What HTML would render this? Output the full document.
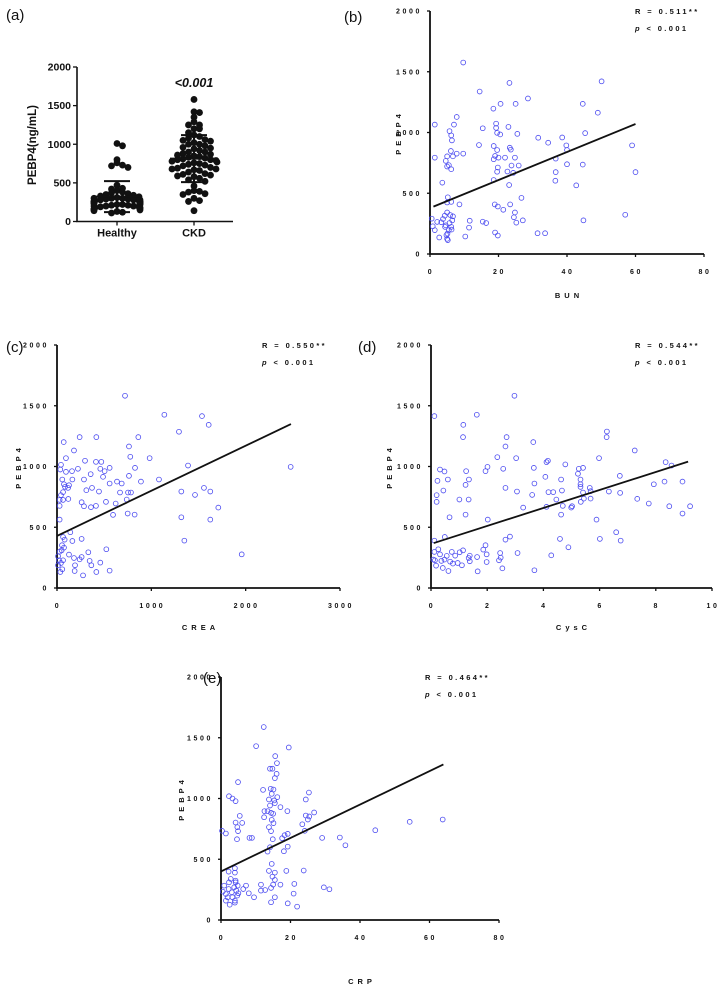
<!DOCTYPE html>
<html><head><meta charset="utf-8">
<style>
html,body{margin:0;padding:0;background:#fff;}
svg{display:block;font-family:"Liberation Sans",Arial,sans-serif;}
.tk{font-size:7px;font-weight:bold;letter-spacing:2.6px;fill:#111;}
.ttl{font-size:7.5px;font-weight:bold;letter-spacing:4px;fill:#111;}
.pl{font-size:15px;fill:#111;}
.st{font-size:7.5px;font-weight:bold;letter-spacing:2.4px;fill:#111;}
</style></head>
<body>
<svg id="fig" width="720" height="996" viewBox="0 0 720 996"></svg>
<script>
// ---------- Panel (a) data ----------
const groupLabels = ["Healthy","CKD"];
const healthyVals = [1010,980,800,760,730,720,700,470,430,420,400,380,370,360,350,340,330,320,310,300,300,290,290,280,280,270,270,260,260,250,250,250,240,240,230,230,220,220,210,210,200,200,190,190,180,170,160,150,140,130,120,110,300,280,260,240,220,200,180,160];
const ckdVals = [1580,1420,1410,1350,1290,1250,1250,1200,1200,1150,1120,1100,1080,1060,1050,1040,1020,1000,1000,980,960,950,940,920,900,900,880,870,860,850,840,830,820,810,800,800,790,780,770,760,750,740,730,720,700,690,680,680,670,660,640,620,610,600,590,580,560,540,520,460,400,390,380,360,350,300,270,260,140];
const aTicks = [0,500,1000,1500,2000];

// ---------- Panel (b) BUN ----------
const bunX = [9.7,1.4,7.8,7,5.7,6.2,6.4,1.4,5,4.6,5,5.5,6.2,6.7,7.8,9.7,6.1,3.6,8.6,5,6.2,5.2,14.5,14.3,15.4,18.5,19.3,19.3,19.6,20.5,20.6,23.2,25,28.6,25.5,22.9,23.3,23.6,18.6,19,18.6,20,19.6,19.8,19.6,21.9,24.8,23.8,25.9,22.6,24.3,23.1,18.6,18.9,19.8,21.4,23.4,26.7,24.8,24.5,27.1,25.2,16.4,15.4,11.6,11.4,10.3,19,19.8,31.4,33.6,31.6,34.5,38.6,39.8,40,40,36.7,36.7,36.6,44.6,49,50.1,45.3,44.6,42.7,44.8,57,59,60,0.5,0.8,1.4,2.1,2.7,3.3,3.8,4.3,4.6,5,5.1,5.2,5.5,5.7,5.9,6.2,6.5,4.8,5,6.3,6.7,4.4];
const bunY = [1576,1065,1128,1065,1011,976,935,793,804,766,720,731,698,804,826,826,848,587,408,424,429,467,1337,897,1035,1196,1073,1038,997,984,1236,1408,1236,1280,989,1046,875,859,889,807,780,793,856,712,677,793,793,728,728,679,668,568,609,408,391,364,408,462,342,302,277,258,255,266,274,217,144,177,152,171,171,957,916,959,894,856,739,785,674,603,1236,1163,1421,995,736,565,277,323,894,674,291,228,196,264,136,261,288,315,236,342,168,114,196,255,321,223,277,155,125,201,310,223];
const bunTicks = [0,20,40,60,80];
const bunFit = [1,390,60,1070];

// ---------- Panel (c) CREA ----------
const creaX = [721,1138,1537,1608,1293,240,417,862,71,180,763,777,95,297,413,470,982,1389,42,35,95,159,222,357,459,488,558,505,827,286,371,163,56,74,85,117,127,636,686,558,890,1081,763,311,445,668,753,784,1318,1463,1558,1625,1710,1318,1625,28,28,42,64,120,64,261,286,360,413,519,622,739,594,749,823,28,2477,1350,1958,141,163,261,64,81,53,74,28,11,11,35,56,64,127,180,240,261,332,346,364,459,417,523,558,276,187,191,21,42,49];
const creaY = [1582,1426,1415,1343,1286,1242,1242,1242,1201,1132,1165,1080,1069,1047,1038,1038,1069,1008,1014,975,956,962,981,937,981,915,989,962,989,893,824,893,893,854,832,824,846,876,860,860,876,893,923,805,794,786,786,786,794,766,824,794,662,582,563,725,676,764,789,733,725,706,673,665,676,709,695,728,602,613,604,563,997,390,277,459,387,404,420,398,352,332,299,261,187,132,154,228,275,247,236,255,294,223,187,209,132,319,143,104,140,187,228,206,310];
const creaTicks = [0,1000,2000,3000];
const creaFit = [0,429,2480,1349];

// ---------- Panel (d) CysC ----------
const cysX = [2.97,0.12,1.63,1.15,1.14,2.69,2.65,3.64,2.36,3.03,6.26,6.25,7.25,5.98,4.16,4.11,0.32,0.48,1.25,1.94,2.01,2.57,3.66,4.78,5.23,5.26,5.41,8.35,8.56,0.23,0.60,1.35,1.23,2.65,3.68,4.07,4.63,5.32,5.32,5.32,5.65,6.72,7.93,8.31,8.95,0.44,0.20,0.20,1.01,1.34,3.06,3.60,4.18,4.35,4.66,5.41,5.68,5.68,6.33,6.73,4.46,4.69,4.11,4.99,5.02,5.33,5.44,7.34,7.75,8.48,9.22,8.95,4.63,3.28,1.23,0.66,2.02,5.89,6.59,6.01,6.75,4.59,4.89,4.28,2.81,2.65,3.08,3.68,0.49,0.12,0.12,0.14,0.18,0.26,0.32,0.37,0.42,0.48,0.56,0.62,0.68,0.74,0.78,0.86,0.95,1.02,1.10,1.14,1.34,1.38,1.64,1.66,1.94,1.98,1.98,1.86,2.46,2.48,2.42,2.54,1.38,0.08];
const cysY = [1582,1415,1426,1343,1242,1242,1165,1201,1077,1069,1288,1242,1132,1069,1047,1036,975,959,962,962,997,981,989,1017,940,981,989,1036,1008,882,893,893,849,824,860,915,893,893,854,832,824,923,854,876,876,802,764,709,728,728,794,766,789,789,802,786,797,736,794,783,728,676,668,662,673,709,736,734,695,673,673,613,604,662,604,582,563,563,459,404,390,404,335,269,423,398,288,146,420,390,297,228,184,319,277,223,165,234,264,140,217,297,201,266,206,294,187,310,247,220,255,137,352,277,214,316,288,250,228,162,266,234];
const cysTicks = [0,2,4,6,8,10];
const cysFit = [0.1,370,9.15,1040];

// ---------- Panel (e) CRP ----------
const crpX = [12.3,10.1,19.5,15.6,16.1,14.1,14.8,16,15.5,4.9,12.1,14.3,15.1,14.6,16.2,25.3,2.3,3.3,4.2,13.8,15.3,15.5,14.1,17.1,19.1,24.4,12.5,13.4,14.4,15,12.4,14.6,26.8,24.4,25.4,25,5.4,15.1,6.1,4.2,4.7,13.8,14.4,23.4,24.1,4.9,0.3,1.4,8.2,8.9,4.6,14.9,17.6,18.3,19.2,29.1,34.2,35.8,44.4,54.3,63.8,19.2,14.1,13.4,18.1,14.6,4,4,2.2,13.8,15.5,18.8,23.8,14.8,15.5,15,17.1,11.5,12.7,14.4,15.5,14.4,19.2,21.9,21.1,20.9,29.6,31.2,8,9.5,6.4,7.2,11.5,0.5,0.9,1.4,2.2,2.3,2.8,3.1,3.3,2.5,3.8,4.2,4.4,4.7,4,4,4.8,5,1.4,1.9,4.2];
const crpY = [1588,1431,1420,1349,1291,1245,1245,1203,1168,1135,1071,1080,1074,1038,1011,1049,1019,1000,978,992,984,962,942,929,896,992,896,896,882,874,846,824,885,860,852,827,857,797,799,802,764,764,731,788,734,731,734,712,676,676,665,665,673,698,709,676,679,615,739,808,827,604,599,563,566,462,426,390,398,404,390,404,407,357,330,291,291,291,247,264,187,146,137,110,297,217,269,253,220,187,255,283,242,234,283,214,255,310,338,228,187,126,269,310,242,201,159,143,283,220,159,187,324];
const crpTicks = [0,20,40,60,80];
const crpFit = [0,400,64,1280];

const pebTicks = [0,500,1000,1500,2000];

const NS = "http://www.w3.org/2000/svg";
const svg = document.getElementById("fig");
function mk(tag, attrs, parent, text){
  const e = document.createElementNS(NS, tag);
  for (const k in attrs) e.setAttribute(k, attrs[k]);
  if (text !== undefined) e.textContent = text;
  (parent || svg).appendChild(e);
  return e;
}

[["(a)",6,20],["(b)",344,22],["(c)",6,352],["(d)",358,352],["(e)",203,683]].forEach(p=>{
  const t = mk("text",{x:p[1],y:p[2],class:"pl"},svg,p[0]);
  
  
});

// ---------- Panel (a) ----------
(function(){
  const g = mk("g",{});
  
  
  const x0=77, x1=233, yb=221.5, yt=67;
  const sy = v => yb - (v/2000)*(yb-yt);
  const ax = mk("path",{d:`M${x0} ${yt} V${yb} H${x1}`,stroke:"#111","stroke-width":1.6,fill:"none"},g);
  
  
  aTicks.forEach(t=>{
    mk("line",{x1:x0-4,x2:x0,y1:sy(t),y2:sy(t),stroke:"#111","stroke-width":1.3},g);
    const l = mk("text",{x:x0-6,y:sy(t)+3.5,"text-anchor":"end","font-size":"10.5","font-weight":"bold",fill:"#111"},g,String(t));
    
    
  });
  const yl = mk("text",{x:0,y:0,transform:`translate(36,145) rotate(-90)`,"text-anchor":"middle","font-size":"11.5","font-weight":"bold",fill:"#111"},g,"PEBP4(ng/mL)");
  
  
  const centers=[117,194];
  [healthyVals, ckdVals].forEach((vals,gi)=>{
    const cx = centers[gi];
    mk("line",{x1:cx,x2:cx,y1:yb,y2:yb+4,stroke:"#111","stroke-width":1.3},g);
    const gl = mk("text",{x:cx,y:yb+15,"text-anchor":"middle","font-size":"11","font-weight":"bold",fill:"#111"},g,groupLabels[gi]);
    
    
    const bins = {};
    vals.forEach(v=>{
      const b = Math.round(v/90);
      bins[b] = (bins[b]||0);
      const k = bins[b]++;
      const off = (k===0?0:(k%2?1:-1)*Math.ceil(k/2)*5.5);
      const d = mk("circle",{cx:cx+Math.max(-23,Math.min(23,off)),cy:sy(v),r:3.4,fill:"#111"},g);
      
      
    });
    const mean = vals.reduce((a,b)=>a+b,0)/vals.length;
    const sd = Math.sqrt(vals.reduce((a,b)=>a+(b-mean)*(b-mean),0)/(vals.length-1));
    const eb = mk("path",{d:`M${cx-24} ${sy(mean)} H${cx+24} M${cx} ${sy(mean-sd)} V${sy(mean+sd)} M${cx-13} ${sy(mean+sd)} H${cx+13} M${cx-13} ${sy(mean-sd)} H${cx+13}`,stroke:"#111","stroke-width":2,fill:"none"},g);
    
    
  });
  const pv = mk("text",{x:194,y:87,"text-anchor":"middle","font-size":"12.5","font-weight":"bold","font-style":"italic",fill:"#111"},g,"<0.001");
  
  
})();

function scatter(cfg){
  const g = mk("g",{});
  
  
  const {x0,x1,yb,yt,xmax}=cfg;
  const sx = v => x0 + v/xmax*(x1-x0);
  const sy = v => yb - v/2000*(yb-yt);
  const ax = mk("path",{d:`M${x0} ${yt} V${yb} H${x1}`,stroke:"#111","stroke-width":1.8,fill:"none"},g);
  
  
  pebTicks.forEach(t=>{
    mk("line",{x1:x0-3,x2:x0,y1:sy(t),y2:sy(t),stroke:"#111","stroke-width":1.3},g);
    const l = mk("text",{x:x0-8,y:sy(t)+2.5,"text-anchor":"end",class:"tk"},g,String(t));
    
    
  });
  cfg.xt.forEach(t=>{
    mk("line",{x1:sx(t),x2:sx(t),y1:yb,y2:yb+3,stroke:"#111","stroke-width":1.3},g);
    const l = mk("text",{x:sx(t)+1,y:yb+20,"text-anchor":"middle",class:"tk"},g,String(t));
    
    
  });
  const yl = mk("text",{x:0,y:0,transform:`translate(${cfg.ylx},${(yb+yt)/2}) rotate(-90)`,"text-anchor":"middle",class:"ttl"},g,"PEBP4");
  
  
  const xl = mk("text",{x:(x0+x1)/2+2,y:yb+cfg.xlOff,"text-anchor":"middle",class:"ttl"},g,cfg.xlab);
  
  
  cfg.xs.forEach((v,i)=>{
    const c = mk("circle",{cx:sx(v),cy:sy(cfg.ys[i]),r:2.4,fill:"none",stroke:"#4a4af0","stroke-width":0.8},g);
    
    
  });
  const f = cfg.fit;
  const fl = mk("line",{x1:sx(f[0]),y1:sy(f[1]),x2:sx(f[2]),y2:sy(f[3]),stroke:"#111","stroke-width":1.8},g);
  
  
  const r = mk("text",{x:cfg.rx,y:yt+3,class:"st"},g,cfg.r);
  
  
  const p = mk("text",{x:cfg.rx,y:yt+20,class:"st"},g);
  
  
  mk("tspan",{"font-style":"italic"},p,"p");
  mk("tspan",{},p," < 0.001");
}
scatter({name:"panel-b-bun",x0:430,x1:704,yb:254,yt:11,xmax:80,xt:bunTicks,xs:bunX,ys:bunY,fit:bunFit,xlab:"BUN",ylx:401,xlOff:44,rx:635,r:"R = 0.511**"});
scatter({name:"panel-c-crea",x0:57,x1:340,yb:588,yt:345,xmax:3000,xt:creaTicks,xs:creaX,ys:creaY,fit:creaFit,xlab:"CREA",ylx:21,xlOff:42,rx:262,r:"R = 0.550**"});
scatter({name:"panel-d-cysc",x0:431,x1:712,yb:588,yt:345,xmax:10,xt:cysTicks,xs:cysX,ys:cysY,fit:cysFit,xlab:"CysC",ylx:392,xlOff:42,rx:635,r:"R = 0.544**"});
scatter({name:"panel-e-crp",x0:221,x1:499,yb:920,yt:677,xmax:80,xt:crpTicks,xs:crpX,ys:crpY,fit:crpFit,xlab:"CRP",ylx:184,xlOff:64,rx:425,r:"R = 0.464**"});
</script>
</body></html>
